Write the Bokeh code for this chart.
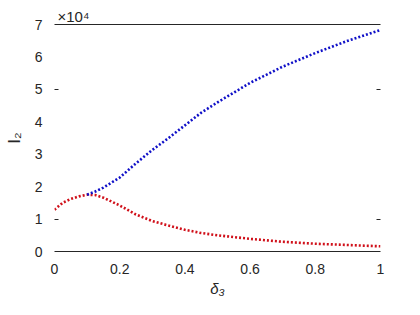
from bokeh.plotting import figure
from bokeh.models import Range1d, FixedTicker, LinearAxis, CustomJSTickFormatter
from bokeh.embed import file_html
from bokeh.resources import INLINE

# delta_3 values and I_2 values (raw units)
red_x = [0, 0.025, 0.05, 0.075, 0.1, 0.125, 0.15, 0.2, 0.25, 0.3, 0.35, 0.4, 0.45, 0.5, 0.6, 0.7, 0.8, 0.9, 1.0]
red_y = [12900, 15000, 16200, 17000, 17500, 17400, 16600, 14200, 11400, 9400, 8000, 6700, 5700, 5000, 3900, 3000, 2400, 2000, 1600]
blue_x = [0.1, 0.125, 0.15, 0.2, 0.25, 0.3, 0.35, 0.4, 0.45, 0.5, 0.6, 0.7, 0.8, 0.9, 1.0]
blue_y = [17500, 18500, 19700, 22800, 27200, 31300, 35000, 38900, 42800, 46000, 52000, 57000, 61200, 65000, 68300]
x_ticks = [0, 0.2, 0.4, 0.6, 0.8, 1.0]
y_ticks = [0, 10000, 20000, 30000, 40000, 50000, 60000, 70000]
y_minor = [10000, 50000]

FONT = "Liberation Sans"
TXT = "#262626"

p = figure(width=404, height=299, output_backend="svg", toolbar_location=None,
           x_range=Range1d(0, 1), y_range=Range1d(0, 70000),
           min_border_left=54, min_border_right=24, min_border_top=24, min_border_bottom=41)
p.background_fill_color = "white"
p.border_fill_color = "white"
p.outline_line_color = None
p.xgrid.grid_line_color = None
p.ygrid.grid_line_color = None

p.line(red_x, red_y, line_color="#d0101a", line_width=2.6, line_dash="2 2")
p.line(blue_x, blue_y, line_color="#1010c8", line_width=2.6, line_dash="2 2")

# exponent as title
p.title.text = "×10⁴"
p.title.align = "left"
p.title.offset = 3
p.title.text_font = FONT
p.title.text_font_size = "15px"
p.title.text_font_style = "normal"
p.title.text_color = TXT
p.title.standoff = 0

# bottom axis
xa = p.xaxis[0]
xa.ticker = FixedTicker(ticks=x_ticks)
xa.major_label_overrides = {0: "0", 1: "1"}
xa.major_tick_line_color = None
xa.minor_tick_line_color = None
xa.axis_line_color = "#262626"
xa.axis_line_width = 1.2
xa.major_label_text_font = FONT
xa.major_label_text_font_size = "14px"
xa.major_label_text_color = TXT
xa.major_label_standoff = 6
xa.axis_label = "δ₃"
xa.axis_label_text_font = FONT
xa.axis_label_text_font_size = "15px"
xa.axis_label_text_font_style = "italic"
xa.axis_label_text_color = TXT
xa.axis_label_standoff = 3

# left axis
ya = p.yaxis[0]
ya.ticker = FixedTicker(ticks=y_ticks, minor_ticks=y_minor)
ya.formatter = CustomJSTickFormatter(code="return (tick/10000).toString();")
ya.major_tick_line_color = None
ya.minor_tick_in = 4
ya.minor_tick_out = 0
ya.minor_tick_line_color = "#262626"
ya.axis_line_color = None
ya.major_label_text_font = FONT
ya.major_label_text_font_size = "14px"
ya.major_label_text_color = TXT
ya.major_label_standoff = 6
ya.axis_label = "I₂"
ya.axis_label_text_font = FONT
ya.axis_label_text_font_size = "17px"
ya.axis_label_text_font_style = "normal"
ya.axis_label_text_color = TXT
ya.axis_label_standoff = 8

# right axis: only inward ticks at 1 and 5
ra = LinearAxis(ticker=FixedTicker(ticks=[], minor_ticks=y_minor))
ra.axis_line_color = None
ra.major_tick_line_color = None
ra.minor_tick_in = 4
ra.minor_tick_out = 0
ra.minor_tick_line_color = "#262626"
ra.major_label_text_font_size = "0px"
p.add_layout(ra, "right")

# top line
ta = LinearAxis(ticker=FixedTicker(ticks=[]))
ta.axis_line_color = "#262626"
ta.axis_line_width = 1.2
ta.major_tick_line_color = None
ta.minor_tick_line_color = None
ta.major_label_text_font_size = "0px"
p.add_layout(ta, "above")

open("out.html", "w").write(file_html(p, INLINE))
